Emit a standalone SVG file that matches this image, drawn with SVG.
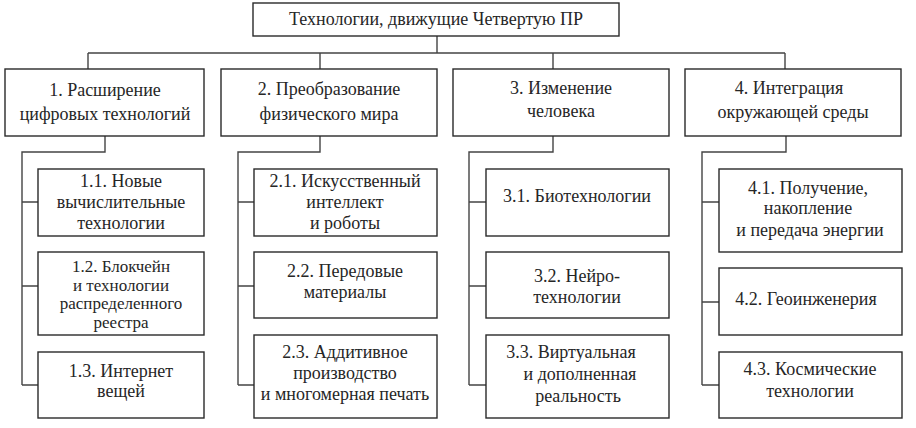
<svg xmlns="http://www.w3.org/2000/svg" width="916" height="428" viewBox="0 0 916 428">
<defs>
<style>
rect{fill:#fff;stroke:#2a2a2a;stroke-width:1.4}
.c path{fill:none;stroke:#444;stroke-width:1.4}
</style>
</defs>
<rect x="0" y="0" width="916" height="428" style="stroke:none"/>
<g class="c" id="connectors">
<path d="M437 36V53M88 53H785M88 53V69M320 53V69M553 53V69M785 53V69"/>
<path d="M105 136V152H22V385M22 202H38M22 286H38M22 385H38"/>
<path d="M320 136V152H238V385M238 202H254M238 286H254M238 385H254"/>
<path d="M553 136V152H469V385M469 202H486M469 286H486M469 385H486"/>
<path d="M786 136V152H702V385M702 202H719M702 302H719M702 385H719"/>
</g>
<g fill="#262626" text-anchor="middle" font-size="18">
<g id="root"><rect x="253" y="3" width="366" height="33"/><text font-family="Times New Roman" x="436" y="25">Технологии, движущие Четвертую ПР</text></g>
<g id="n1"><rect x="5" y="69" width="199" height="67"/><text font-family="Times New Roman" x="105" y="96">1. Расширение</text><text font-family="Times New Roman" x="105" y="120">цифровых технологий</text></g>
<g id="n2"><rect x="221" y="69" width="216" height="67"/><text font-family="Times New Roman" x="329" y="95">2. Преобразование</text><text font-family="Times New Roman" x="329" y="120">физического мира</text></g>
<g id="n3"><rect x="453" y="69" width="216" height="67"/><text font-family="Times New Roman" x="561" y="94">3. Изменение</text><text font-family="Times New Roman" x="561" y="117">человека</text></g>
<g id="n4"><rect x="685" y="69" width="216" height="67"/><text font-family="Times New Roman" x="789" y="94">4. Интеграция</text><text font-family="Times New Roman" x="793" y="118">окружающей среды</text></g>
<g id="n11"><rect x="38" y="169" width="166" height="67"/><text font-family="Times New Roman" x="121" y="187">1.1. Новые</text><text font-family="Times New Roman" x="121" y="208">вычислительные</text><text font-family="Times New Roman" x="121" y="229">технологии</text></g>
<g id="n12" font-size="17"><rect x="38" y="252" width="166" height="83"/><text font-family="Times New Roman" x="121" y="272">1.2. Блокчейн</text><text font-family="Times New Roman" x="121" y="290.5">и технологии</text><text font-family="Times New Roman" x="121" y="309">распределенного</text><text font-family="Times New Roman" x="121" y="327.5">реестра</text></g>
<g id="n13"><rect x="38" y="352" width="166" height="66"/><text font-family="Times New Roman" x="121" y="377">1.3. Интернет</text><text font-family="Times New Roman" x="121" y="397">вещей</text></g>
<g id="n21"><rect x="254" y="169" width="183" height="67"/><text font-family="Times New Roman" x="345" y="187">2.1. Искусственный</text><text font-family="Times New Roman" x="345" y="208">интеллект</text><text font-family="Times New Roman" x="345" y="229">и роботы</text></g>
<g id="n22"><rect x="254" y="252" width="183" height="66"/><text font-family="Times New Roman" x="345" y="277">2.2. Передовые</text><text font-family="Times New Roman" x="345" y="298">материалы</text></g>
<g id="n23"><rect x="254" y="335" width="183" height="83"/><text font-family="Times New Roman" x="345" y="358">2.3. Аддитивное</text><text font-family="Times New Roman" x="345" y="379">производство</text><text font-family="Times New Roman" x="345" y="400">и многомерная печать</text></g>
<g id="n31"><rect x="486" y="169" width="183" height="67"/><text font-family="Times New Roman" x="577" y="202">3.1. Биотехнологии</text></g>
<g id="n32"><rect x="486" y="252" width="183" height="66"/><text font-family="Times New Roman" x="577" y="282">3.2. Нейро-</text><text font-family="Times New Roman" x="577" y="303">технологии</text></g>
<g id="n33"><rect x="486" y="335" width="183" height="83"/><text font-family="Times New Roman" x="571" y="358">3.3. Виртуальная</text><text font-family="Times New Roman" x="580" y="380">и дополненная</text><text font-family="Times New Roman" x="578" y="402">реальность</text></g>
<g id="n41"><rect x="719" y="169" width="183" height="83"/><text font-family="Times New Roman" x="808" y="194">4.1. Получение,</text><text font-family="Times New Roman" x="808" y="214">накопление</text><text font-family="Times New Roman" x="810" y="236">и передача энергии</text></g>
<g id="n42"><rect x="719" y="268" width="183" height="67"/><text font-family="Times New Roman" x="806" y="305">4.2. Геоинженерия</text></g>
<g id="n43"><rect x="719" y="352" width="183" height="66"/><text font-family="Times New Roman" x="810" y="375">4.3. Космические</text><text font-family="Times New Roman" x="810" y="397">технологии</text></g>
</g>
</svg>
